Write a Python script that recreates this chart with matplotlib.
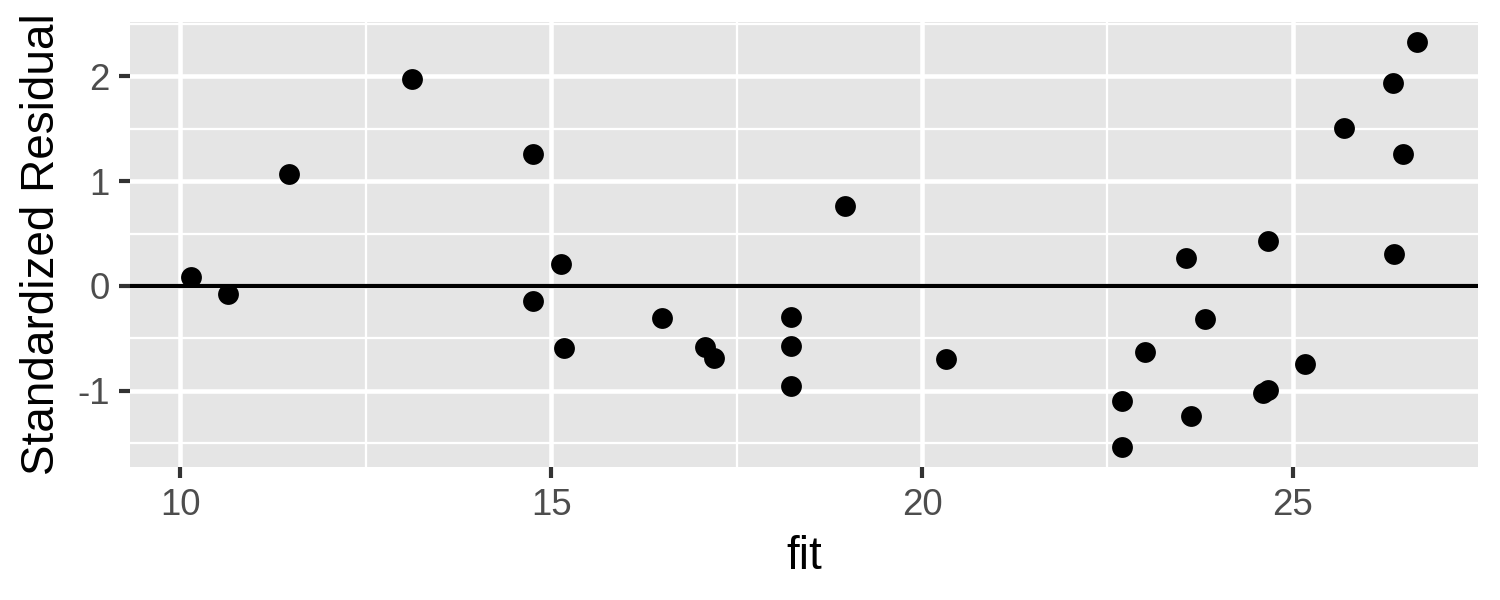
import numpy as np
import matplotlib
matplotlib.use('Agg')
from matplotlib import pyplot as plt
from matplotlib.ticker import MultipleLocator

# fitted values and standardized residuals
fit = [10.15, 10.65, 11.47, 13.12, 14.76, 14.76, 15.13, 15.17, 16.49, 17.07,
       17.19, 18.23, 18.23, 18.23, 18.96, 20.32, 22.70, 22.70, 23.01, 23.56,
       23.63, 23.81, 24.66, 24.60, 24.67, 25.16, 25.69, 26.35, 26.36, 26.48,
       26.67]
std_resid = [0.086, -0.076, 1.067, 1.97, 1.257, -0.143, 0.21, -0.59, -0.31, -0.58,
             -0.686, -0.295, -0.571, -0.952, 0.762, -0.695, -1.095, -1.533, -0.629, 0.267,
             -1.24, -0.314, 0.429, -1.02, -0.99, -0.743, 1.505, 1.933, 0.305, 1.257,
             2.324]
x_ticks = [10, 15, 20, 25]
y_ticks = [-1, 0, 1, 2]

plt.rcParams['font.family'] = ['Liberation Sans', 'DejaVu Sans']

fig = plt.figure(figsize=(5, 2), dpi=300)
ax = fig.add_axes([0.0867, 0.2217, 0.8986, 0.7416])
ax.set_facecolor('#E5E5E5')

# ggplot style grid
ax.xaxis.set_minor_locator(MultipleLocator(2.5))
ax.yaxis.set_minor_locator(MultipleLocator(0.5))
ax.grid(which='major', color='white', linewidth=1.1)
ax.grid(which='minor', color='white', linewidth=0.55)
ax.set_axisbelow(True)
for s in ax.spines.values():
    s.set_visible(False)

ax.axhline(0, color='black', linewidth=1.0, zorder=2)
ax.scatter(fit, std_resid, s=25, color='black', linewidths=0, zorder=3)

xr = max(fit) - min(fit)
yr = max(std_resid) - min(std_resid)
ax.set_xlim(min(fit) - 0.05 * xr, max(fit) + 0.05 * xr)
ax.set_ylim(min(std_resid) - 0.05 * yr, max(std_resid) + 0.05 * yr)
ax.set_xticks(x_ticks)
ax.set_yticks(y_ticks)
ax.set_xticklabels([str(v) for v in x_ticks])
ax.set_yticklabels([str(v) for v in y_ticks])

ax.tick_params(which='major', length=2.75, width=1.0, color='#333333',
               labelsize=8.8, labelcolor='#4D4D4D', pad=2.2)
ax.tick_params(which='minor', length=0)

ax.set_xlabel('fit', fontsize=11, labelpad=3)
ax.set_ylabel('Standardized Residual', fontsize=11, labelpad=3)

fig.savefig('out.png', dpi=300, facecolor='white')
